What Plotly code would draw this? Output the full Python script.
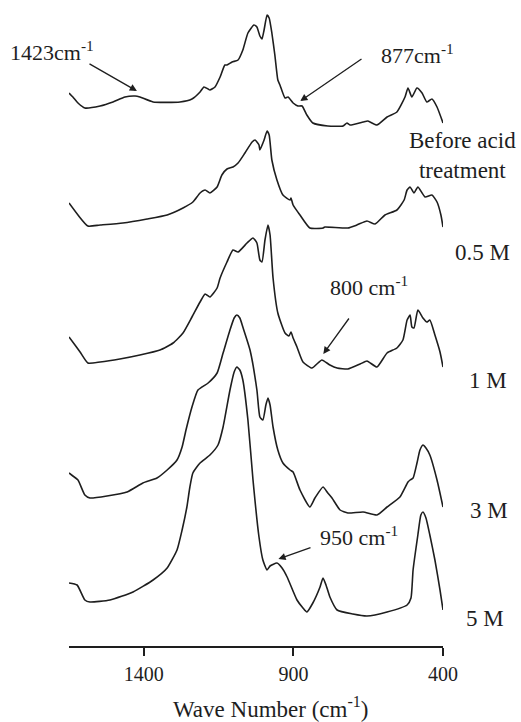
import plotly.graph_objects as go

# ---- FTIR spectra (wavenumber in cm-1, absorbance in arbitrary units) ----
WN_BEFORE = [1650, 1637, 1620, 1597, 1546, 1503, 1463, 1429, 1413, 1369, 1279, 1239, 1212, 1199,
             1185, 1179, 1162, 1145, 1129, 1122, 1105, 1085, 1069, 1052, 1032, 1022, 1012, 1005,
             998, 988, 981, 972, 962, 952, 945, 928, 918, 901, 885, 871, 855, 835, 785, 734, 721,
             711, 667, 651, 621, 587, 554, 527, 517, 504, 487, 470, 454, 437, 420, 400]
AB_BEFORE = [0.37, 0.33, 0.27, 0.22, 0.24, 0.28, 0.33, 0.34, 0.33, 0.28, 0.28, 0.31, 0.38, 0.43,
             0.41, 0.40, 0.43, 0.53, 0.65, 0.65, 0.68, 0.70, 0.80, 0.97, 1.05, 1.03, 0.94, 0.91,
             1.00, 1.15, 1.12, 0.97, 0.75, 0.50, 0.45, 0.32, 0.33, 0.27, 0.24, 0.24, 0.15, 0.07,
             0.04, 0.04, 0.07, 0.05, 0.08, 0.09, 0.05, 0.13, 0.18, 0.33, 0.42, 0.33, 0.42, 0.37,
             0.28, 0.31, 0.23, 0.07]

WN_05M = [1650, 1620, 1587, 1546, 1470, 1389, 1322, 1269, 1236, 1212, 1195, 1179, 1155, 1139,
          1122, 1102, 1085, 1062, 1038, 1028, 1015, 1012, 998, 988, 981, 972, 955, 935, 911, 908,
          901, 878, 845, 801, 795, 718, 688, 654, 627, 594, 554, 530, 520, 510, 497, 484, 460,
          437, 420, 407, 400]
AB_05M = [0.27, 0.15, 0.04, 0.05, 0.07, 0.11, 0.15, 0.22, 0.28, 0.37, 0.40, 0.37, 0.43, 0.55,
          0.61, 0.63, 0.67, 0.77, 0.88, 0.90, 0.85, 0.80, 0.90, 0.99, 0.95, 0.70, 0.50, 0.35,
          0.30, 0.32, 0.25, 0.15, 0.02, 0.02, 0.03, 0.02, 0.05, 0.09, 0.06, 0.15, 0.20, 0.30,
          0.40, 0.43, 0.37, 0.43, 0.33, 0.35, 0.28, 0.15, 0.03]

WN_1M = [1650, 1630, 1613, 1587, 1546, 1480, 1413, 1346, 1302, 1269, 1239, 1212, 1195, 1179,
         1155, 1145, 1122, 1102, 1085, 1055, 1035, 1022, 1012, 1005, 995, 985, 978, 968, 952,
         928, 915, 908, 901, 888, 868, 838, 818, 805, 778, 754, 718, 677, 654, 621, 587, 554,
         534, 520, 510, 504, 497, 484, 467, 454, 444, 427, 410, 400]
AB_1M = [0.33, 0.25, 0.18, 0.07, 0.08, 0.11, 0.15, 0.20, 0.27, 0.37, 0.53, 0.68, 0.76, 0.73,
         0.82, 0.92, 1.08, 1.20, 1.18, 1.27, 1.32, 1.27, 1.10, 1.08, 1.30, 1.45, 1.35, 0.92,
         0.57, 0.37, 0.34, 0.38, 0.32, 0.23, 0.08, 0.02, 0.07, 0.10, 0.05, 0.02, 0.01, 0.06,
         0.09, 0.03, 0.17, 0.22, 0.30, 0.50, 0.55, 0.43, 0.42, 0.60, 0.52, 0.48, 0.50, 0.35,
         0.18, 0.03]

WN_3M = [1650, 1637, 1620, 1597, 1580, 1523, 1456, 1403, 1356, 1322, 1289, 1272, 1259, 1239,
         1219, 1185, 1155, 1135, 1112, 1098, 1089, 1079, 1069, 1045, 1022, 1012, 1002, 992, 985,
         978, 968, 952, 935, 911, 901, 878, 845, 828, 801, 785, 771, 744, 718, 667, 621, 587,
         544, 517, 510, 500, 487, 477, 467, 457, 444, 420, 400]
AB_3M = [0.47, 0.44, 0.40, 0.25, 0.22, 0.24, 0.28, 0.37, 0.42, 0.50, 0.60, 0.73, 0.90, 1.13,
         1.30, 1.37, 1.47, 1.67, 1.90, 2.02, 2.05, 2.02, 1.93, 1.70, 1.30, 1.03, 1.00, 1.15,
         1.22, 1.15, 0.93, 0.70, 0.57, 0.50, 0.48, 0.30, 0.13, 0.22, 0.33, 0.27, 0.22, 0.10,
         0.07, 0.08, 0.05, 0.13, 0.23, 0.38, 0.40, 0.42, 0.57, 0.70, 0.75, 0.72, 0.65, 0.40,
         0.13]

WN_5M = [1650, 1623, 1597, 1580, 1513, 1436, 1369, 1322, 1289, 1272, 1256, 1246, 1236, 1212,
         1179, 1152, 1135, 1112, 1098, 1089, 1079, 1069, 1052, 1035, 1015, 1002, 988, 978, 955,
         938, 921, 888, 868, 855, 835, 811, 801, 791, 778, 754, 701, 654, 587, 520, 507, 500,
         484, 474, 467, 457, 444, 427, 410, 400]
AB_5M = [0.37, 0.35, 0.20, 0.18, 0.20, 0.28, 0.40, 0.52, 0.70, 0.90, 1.13, 1.33, 1.47, 1.57,
         1.65, 1.75, 1.93, 2.30, 2.48, 2.53, 2.50, 2.40, 2.00, 1.40, 0.83, 0.60, 0.50, 0.54,
         0.57, 0.52, 0.43, 0.20, 0.12, 0.08, 0.17, 0.33, 0.42, 0.35, 0.23, 0.10, 0.06, 0.04,
         0.08, 0.15, 0.22, 0.50, 0.85, 1.05, 1.08, 1.02, 0.85, 0.60, 0.30, 0.10]

SERIES = [
    ("Before acid<br>treatment", WN_BEFORE, AB_BEFORE),
    ("0.5 M", WN_05M, AB_05M),
    ("1 M", WN_1M, AB_1M),
    ("3 M", WN_3M, AB_3M),
    ("5 M", WN_5M, AB_5M),
]
# vertical stacking offset of each spectrum
OFFSETS = [5.16, 4.16, 2.76, 1.26, 0.26]

X_TICKS = [1400, 900, 400]
X_RANGE = [1650, 400]
Y_RANGE = [0, 6.46]

# band assignments marked with arrows: (label, band position)
BANDS = [("1423cm<sup>-1</sup>", 1423), ("877cm<sup>-1</sup>", 877),
         ("800 cm<sup>-1</sup>", 800), ("950 cm<sup>-1</sup>", 950)]

# ---- layout geometry (pixels) ----
W, H = 521, 722
ML, MR, MT, MB = 69, 78, 0, 76
PW, PH = W - ML - MR, H - MT - MB
FONT = '"Liberation Serif", "Times New Roman", Times, serif'
INK = "#1e1e1e"


def px_x(x):
    return (x - ML) / PW


def px_y(y):
    return (H - MB - y) / PH


def x_to_px(wn):
    return ML + (X_RANGE[0] - wn) / (X_RANGE[0] - X_RANGE[1]) * PW


fig = go.Figure()
for (name, wn, ab), off in zip(SERIES, OFFSETS):
    fig.add_trace(go.Scatter(
        x=wn, y=[a + off for a in ab], mode="lines", name=name.replace("<br>", " "),
        line=dict(color=INK, width=1.6, shape="spline", smoothing=0.5),
        showlegend=False, hoverinfo="skip"))

annotations = []

# series labels to the right of each spectrum
series_label_pos = [(462, 155), (482, 253), (488, 380), (489, 510), (485, 618)]
for (name, _, _), (lx, ly) in zip(SERIES, series_label_pos):
    annotations.append(dict(
        text=name, xref="paper", yref="paper", x=px_x(lx), y=px_y(ly),
        xanchor="center", yanchor="middle", showarrow=False, align="center",
        font=dict(family=FONT, size=23, color=INK)))

# band arrows: tail pixel, tip vertical pixel, label left/centre pixel
band_geom = {
    1423: dict(tail=(88, 63), tip_y=91, label=(8, 51)),
    877: dict(tail=(363, 58), tip_y=101, label=(379, 54)),
    800: dict(tail=(350, 317), tip_y=354, label=(328, 286)),
    950: dict(tail=(312, 547), tip_y=559, label=(318, 536)),
}
for text, band in BANDS:
    g = band_geom[band]
    tip_x = x_to_px(band)
    annotations.append(dict(
        text="", xref="paper", yref="paper", x=px_x(tip_x), y=px_y(g["tip_y"]),
        axref="pixel", ayref="pixel", ax=g["tail"][0] - tip_x, ay=g["tail"][1] - g["tip_y"],
        showarrow=True, arrowhead=2, arrowsize=1.1, arrowwidth=1.3, arrowcolor=INK,
        standoff=0, startstandoff=0))
    annotations.append(dict(
        text=text, xref="paper", yref="paper", x=px_x(g["label"][0]), y=px_y(g["label"][1]),
        xanchor="left", yanchor="middle", showarrow=False,
        font=dict(family=FONT, size=22, color=INK)))

# axis title
annotations.append(dict(
    text="Wave Number (cm<sup>-1</sup>)", xref="paper", yref="paper",
    x=px_x(271), y=px_y(707), xanchor="center", yanchor="middle", showarrow=False,
    font=dict(family=FONT, size=23, color=INK)))

fig.update_layout(
    width=W, height=H,
    margin=dict(l=ML, r=MR, t=MT, b=MB, pad=0),
    paper_bgcolor="white", plot_bgcolor="white",
    annotations=annotations,
    xaxis=dict(
        range=X_RANGE, tickvals=X_TICKS, ticktext=[str(t) for t in X_TICKS],
        ticks="outside", ticklen=8, tickwidth=1.5, tickcolor=INK,
        showline=True, linewidth=1.5, linecolor=INK, showgrid=False, zeroline=False,
        tickfont=dict(family=FONT, size=20, color=INK), ticklabelstandoff=1),
    yaxis=dict(range=Y_RANGE, visible=False, showgrid=False, zeroline=False),
)

fig.write_html("out.html")
